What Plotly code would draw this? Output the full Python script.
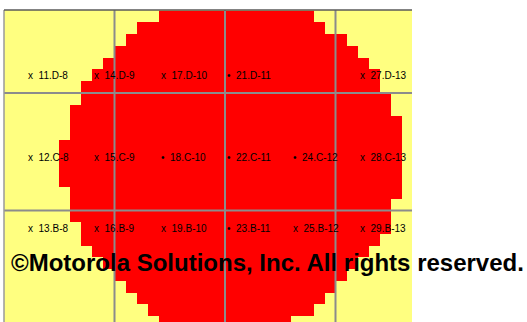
import plotly.graph_objects as go

# Red region per pixel row (row index 0 at top): first red column, end column (exclusive)
row_first_red = [14, 12, 11, 10, 9, 8, 7, 7, 6, 6, 6, 5, 5, 5, 5, 6, 6, 6, 7, 7, 8, 9, 10, 11, 12, 13, 14]
row_end_red = [28, 29, 31, 32, 33, 34, 34, 35, 35, 36, 36, 36, 36, 36, 36, 36, 35, 35, 35, 34, 33, 32, 31, 30, 29, 28, 26]
n_cols = 37

# Grid lines (every 10 cells)
grid_cols = [10, 20, 30]
grid_rows = [7, 17]

# Die labels
labels = ["11.D-8", "14.D-9", "17.D-10", "21.D-11", "27.D-13",
          "12.C-8", "15.C-9", "18.C-10", "22.C-11", "24.C-12", "28.C-13",
          "13.B-8", "16.B-9", "19.B-10", "23.B-11", "25.B-12", "29.B-13"]
label_cols = [2, 8, 14, 20, 32,
              2, 8, 14, 20, 26, 32,
              2, 8, 14, 20, 26, 32]
label_rows = [5.5] * 5 + [12.5] * 6 + [18.5] * 6
label_marks = ["x", "x", "x", "•", "x",
               "x", "x", "•", "•", "•", "x",
               "x", "x", "x", "•", "x", "x"]

watermark = "©Motorola Solutions, Inc. All rights reserved."

z = []
for a, b in zip(row_first_red, row_end_red):
    z.append([1 if a <= c < b else 0 for c in range(n_cols)])

fig = go.Figure()
fig.add_trace(go.Heatmap(
    z=z,
    x=[c + 0.5 for c in range(n_cols)],
    y=[r + 0.5 for r in range(len(z))],
    colorscale=[[0, "#FFFF80"], [1, "#FF0000"]],
    zmin=0, zmax=1, showscale=False, hoverinfo="skip",
))

W, H = 527, 322
ml, mr, mt, mb = 4, 115, 10, 0
cw, rh = 11.05, 11.75
xr = [0, (W - ml - mr) / cw]
yr = [(H - 10.75) / rh, -0.75 / rh]

shapes = []
for c in grid_cols:
    shapes.append(dict(type="line", xref="x", yref="paper", x0=c, x1=c, y0=0, y1=1,
                       line=dict(color="#8C8C8C", width=2), layer="above"))
for r in grid_rows:
    shapes.append(dict(type="line", xref="paper", yref="y", x0=0, x1=1, y0=r, y1=r,
                       line=dict(color="#8C8C8C", width=2), layer="above"))
shapes.append(dict(type="line", xref="paper", yref="paper", x0=0, x1=0, y0=0, y1=1,
                   line=dict(color="#9A9A9A", width=1.5), layer="above"))
shapes.append(dict(type="line", xref="paper", yref="paper", x0=0, x1=1, y0=1, y1=1,
                   line=dict(color="#5A5A5A", width=1.5), layer="above"))

annotations = []
for lab, c, r, m in zip(labels, label_cols, label_rows, label_marks):
    annotations.append(dict(
        x=c, y=r, xref="x", yref="y", xanchor="left", yanchor="middle",
        text=m + "\u00a0\u00a0" + lab, showarrow=False,
        font=dict(family="Liberation Sans, Arial", size=10, color="#000000"),
    ))
annotations.append(dict(
    x=0.6456, y=0.191, xref="paper", yref="paper", xanchor="center", yanchor="middle",
    text="<b>" + watermark + "</b>", showarrow=False,
    font=dict(family="Liberation Sans, Arial", size=24, color="#000000"),
))

fig.update_layout(
    width=W, height=H,
    margin=dict(l=ml, r=mr, t=mt, b=mb, pad=0),
    paper_bgcolor="white", plot_bgcolor="#FFFF80",
    xaxis=dict(range=xr, showgrid=False, zeroline=False, showticklabels=False, ticks="", showline=False),
    yaxis=dict(range=yr, showgrid=False, zeroline=False, showticklabels=False, ticks="", showline=False),
    shapes=shapes, annotations=annotations, showlegend=False,
)

fig.write_html(
    "out.html",
    config={"displayModeBar": False},
    post_script="document.body.style.margin='0';document.body.style.padding='0';document.body.style.overflow='hidden';",
)
